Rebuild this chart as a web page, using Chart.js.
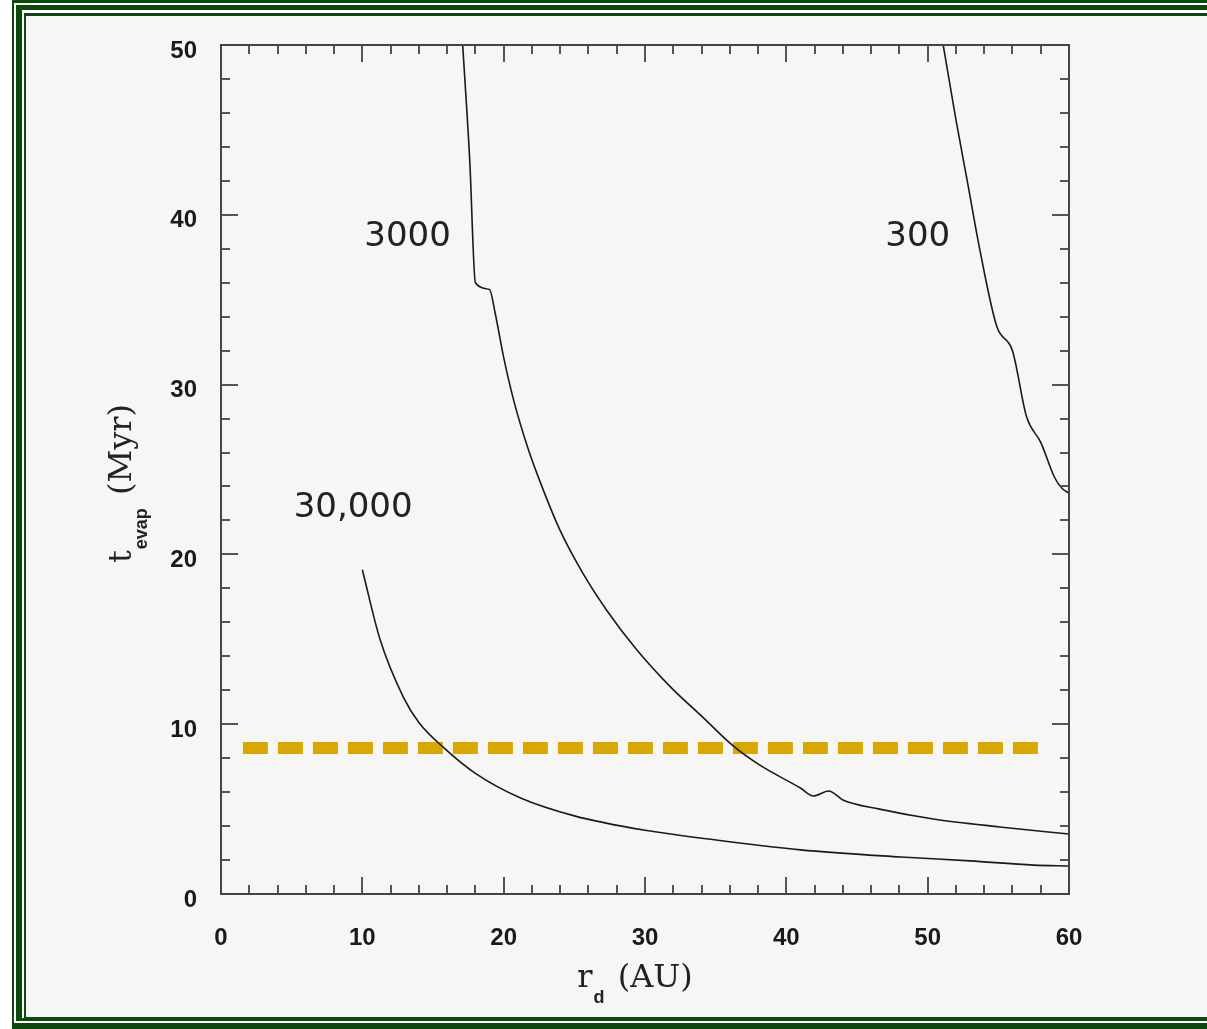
<!DOCTYPE html>
<html>
<head>
<meta charset="utf-8">
<script src="https://cdn.jsdelivr.net/npm/chart.js@4.4.0/dist/chart.umd.min.js"></script>
<style>
html, body { margin: 0; padding: 0; background: #fff; }
#wrap { position: relative; width: 1207px; height: 1029px; }
</style>
</head>
<body>
<div id="wrap"><canvas id="line-canvas"></canvas></div>
<script>
// values: r_d in AU, t_evap in Myr
var r300 = [51.1, 52.0, 52.8, 53.7, 54.9, 56.0, 57.0, 58.0, 59.0, 59.5, 60.0];
var t300 = [50.0, 45.6, 42.0, 37.9, 33.4, 32.0, 28.1, 26.6, 24.5, 23.9, 23.6];

var r3000 = [17.1, 17.6, 18.0, 19.0, 19.4, 20.0, 20.7, 21.7, 22.8, 24.0, 25.6, 27.3, 29.4, 31.8, 34.1, 36.2, 38.1, 41.0, 41.9, 43.0, 44.0, 46.6, 50.4, 55.1, 60.0];
var t3000 = [50.0, 43.2, 36.0, 35.6, 34.2, 31.6, 29.1, 26.3, 23.8, 21.4, 18.9, 16.7, 14.4, 12.2, 10.4, 8.75, 7.6, 6.24, 5.77, 6.07, 5.54, 5.0, 4.42, 3.95, 3.53];

var r30000 = [10.0, 11.25, 12.9, 14.0, 15.7, 18.0, 21.2, 25.0, 30.0, 33.9, 41.0, 48.1, 53.0, 57.5, 60.0];
var t30000 = [19.1, 15.0, 11.6, 10.1, 8.66, 7.1, 5.65, 4.6, 3.75, 3.3, 2.6, 2.18, 1.95, 1.7, 1.65];

// horizontal dashed marker
var rMark = [1.55, 58.3];
var tMark = [8.6, 8.6];

var curveNames = ['300', '3000', '30,000'];
var xTitle = ['r', 'd', ' (AU)'];
var yTitle = ['t', 'evap', ' (Myr)'];

function pts(xs, ys) {
  return xs.map(function(x, i) { return { x: x, y: ys[i] }; });
}

var green = '#0b4a0b';

var framePlugin = {
  id: 'frame',
  beforeDraw: function(chart) {
    var c = chart.ctx, W = chart.width;
    c.save();
    c.fillStyle = '#fff'; c.fillRect(0, 0, W, chart.height);
    c.fillStyle = green; c.fillRect(12, 0, W, 1029);
    c.fillStyle = '#fff'; c.fillRect(14, 3, W, 1020);
    c.fillStyle = green; c.fillRect(16, 5, W, 1016);
    c.fillStyle = '#fff'; c.fillRect(22, 10, W, 1008);
    c.fillStyle = green; c.fillRect(24, 13, W, 1005);
    c.fillStyle = '#f6f6f6'; c.fillRect(26, 16, W, 1001);
    c.restore();
  }
};

var boxPlugin = {
  id: 'box',
  afterDatasetsDraw: function(chart) {
    var c = chart.ctx, a = chart.chartArea;
    var xs = chart.scales.x, ys = chart.scales.y;
    c.save();
    c.strokeStyle = '#555';
    c.lineWidth = 2;
    // x ticks, bottom and top, every 2 AU
    for (var v = 2; v < 60; v += 2) {
      var len = (v % 10 == 0) ? 17 : 9;
      var px = Math.round(xs.getPixelForValue(v));
      c.beginPath();
      c.moveTo(px, a.bottom); c.lineTo(px, a.bottom - len);
      c.moveTo(px, a.top); c.lineTo(px, a.top + len);
      c.stroke();
    }
    for (var w = 2; w < 50; w += 2) {
      var l2 = (w % 10 == 0) ? 17 : 9;
      var py = Math.round(ys.getPixelForValue(w));
      c.beginPath();
      c.moveTo(a.left, py); c.lineTo(a.left + l2, py);
      c.moveTo(a.right, py); c.lineTo(a.right - l2, py);
      c.stroke();
    }
    c.strokeStyle = '#444';
    c.strokeRect(a.left, a.top, a.right - a.left, a.bottom - a.top);
    c.restore();
  }
};

function drawTitle(c, parts, mainFont, subFont, subDrop) {
  c.font = mainFont; var w0 = c.measureText(parts[0]).width;
  c.font = subFont; var w1 = c.measureText(parts[1]).width;
  c.font = mainFont; var w2 = c.measureText(parts[2]).width;
  var x = -(w0 + w1 + 4 + w2) / 2;
  c.textBaseline = 'alphabetic';
  c.textAlign = 'left';
  c.font = mainFont; c.fillText(parts[0], x, 0);
  c.font = subFont; c.fillText(parts[1], x + w0 + 1, subDrop);
  c.font = mainFont; c.fillText(parts[2], x + w0 + w1 + 4, 0);
}

var textPlugin = {
  id: 'texts',
  afterDraw: function(chart) {
    var c = chart.ctx, a = chart.chartArea;
    var xs = chart.scales.x, ys = chart.scales.y;
    c.save();
    c.fillStyle = '#222';
    c.font = '34px "DejaVu Sans"';
    c.textAlign = 'center';
    c.textBaseline = 'middle';
    c.fillText(curveNames[0], xs.getPixelForValue(49.3), ys.getPixelForValue(38.7));
    c.fillText(curveNames[1], xs.getPixelForValue(13.2), ys.getPixelForValue(38.7));
    c.fillText(curveNames[2], xs.getPixelForValue(9.35), ys.getPixelForValue(22.7));

    var serif = '32px "DejaVu Serif"';
    var sub = 'bold 18px "Liberation Sans"';
    c.save();
    c.translate((a.left + a.right) / 2 - 10, 987);
    drawTitle(c, xTitle, serif, sub, 16);
    c.restore();

    c.save();
    c.translate(131, (a.top + a.bottom) / 2 + 14);
    c.rotate(-Math.PI / 2);
    drawTitle(c, yTitle, serif, sub, 16);
    c.restore();
    c.restore();
  }
};

var tickFont = { family: '"Liberation Sans"', size: 24, weight: 'bold' };

var ctx = document.getElementById('line-canvas');
var chart = new Chart(ctx, {
  type: 'line',
  data: {
    datasets: [
      { label: curveNames[0], data: pts(r300, t300), borderColor: '#1a1a1a', borderWidth: 1.6, pointRadius: 0, cubicInterpolationMode: 'monotone', fill: false },
      { label: curveNames[1], data: pts(r3000, t3000), borderColor: '#1a1a1a', borderWidth: 1.6, pointRadius: 0, cubicInterpolationMode: 'monotone', fill: false },
      { label: curveNames[2], data: pts(r30000, t30000), borderColor: '#1a1a1a', borderWidth: 1.6, pointRadius: 0, cubicInterpolationMode: 'monotone', fill: false },
      { label: 'marker', data: pts(rMark, tMark), borderColor: '#d8a800', borderWidth: 12, borderDash: [25, 10], borderCapStyle: 'butt', pointRadius: 0, fill: false }
    ]
  },
  options: {
    responsive: true,
    maintainAspectRatio: false,
    animation: false,
    layout: { padding: { top: 45, right: 138, left: 0, bottom: 0 } },
    plugins: { legend: { display: false }, tooltip: { enabled: false } },
    scales: {
      x: {
        type: 'linear', min: 0, max: 60,
        grid: { display: false }, border: { display: false },
        ticks: { stepSize: 10, autoSkip: false, maxRotation: 0, padding: 22, color: '#1a1a1a', font: tickFont },
        afterFit: function(s) { s.height = 135; }
      },
      y: {
        type: 'linear', min: 0, max: 50,
        grid: { display: false }, border: { display: false },
        ticks: {
          stepSize: 10, padding: 16, color: '#1a1a1a',
          font: { family: '"Liberation Sans"', size: 24, weight: 'bold', lineHeight: 0.5 },
          callback: function(v) { return ['', String(v)]; }
        },
        afterFit: function(s) { s.width = 221; }
      }
    }
  },
  plugins: [framePlugin, boxPlugin, textPlugin]
});
</script>
</body>
</html>
